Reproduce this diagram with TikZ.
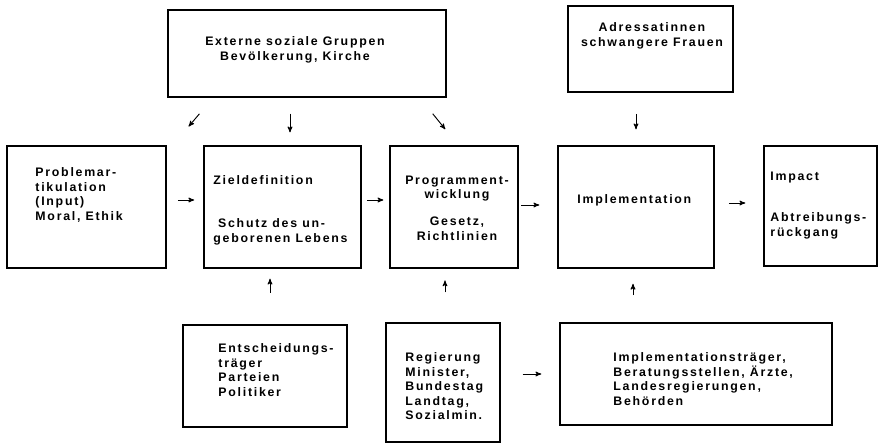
\documentclass[tikz,border=0pt]{standalone}
\usepackage{fontspec}
\setmainfont{Liberation Sans}[LetterSpace=14]
\usepackage{tikz}
\usetikzlibrary{arrows,calc}
\tikzset{sz/.style 2 args={minimum width=#1*0.85pt,minimum height=#2*0.85pt}}

\begin{document}
\begin{tikzpicture}[->,>=stealth',shorten >=1pt,x=0.85pt,y=-0.85pt,thick]
  \tikzstyle{box}=[rectangle,draw=black,line width=1.2pt,inner sep=0pt,-]
  \tikzstyle{txt}=[inner sep=0pt,font=\fontsize{10.5}{12.3}\selectfont\bfseries]

  \useasboundingbox (0,0) rectangle (879,444);

  % boxes
  \node[box,sz={278}{87}]  (ext)   at (307,53.5)  {};
  \node[box,sz={165}{86}]  (adr)   at (650.5,49)  {};
  \node[box,sz={159}{122}] (prob)  at (86.5,207)  {};
  \node[box,sz={157}{122}] (zd)    at (282.5,207) {};
  \node[box,sz={128}{122}] (prog)  at (454,207)   {};
  \node[box,sz={156}{122}] (impl)  at (636,207)   {};
  \node[box,sz={113}{120}] (imp)   at (820.5,206) {};
  \node[box,sz={164}{102}] (ent)   at (265,376)   {};
  \node[box,sz={114}{119}] (reg)   at (443,382.5) {};
  \node[box,sz={272}{102}] (implt) at (696,374)   {};

  % texts
  \node[txt,anchor=north,align=center] (ext-t) at (295,36.5)
    {Externe soziale Gruppen\\Bevölkerung, Kirche};
  \node[txt,anchor=north,align=center] (adr-t) at (652,22.5)
    {Adressatinnen\\schwangere Frauen};
  \node[txt,anchor=north west,align=left] (prob-t) at (35,167.5)
    {Problemar-\\tikulation\\(Input)\\Moral, Ethik};
  \node[txt,anchor=north west,align=left] (zd-t) at (213,175.5)
    {Zieldefinition\\[24pt]\hspace*{4pt}Schutz des un-\\geborenen Lebens};
  \node[txt,anchor=north,align=center] (prog-t) at (457,175.5)
    {Programment-\\wicklung\\[10.6pt]Gesetz,\\Richtlinien};
  \node[txt,anchor=north west,align=left] (impl-t) at (577,194.5)
    {Implementation};
  \node[txt,anchor=north west,align=left] (imp-t) at (770,171.5)
    {Impact\\[23pt]Abtreibungs-\\rückgang};
  \node[txt,anchor=north west,align=left] (ent-t) at (218,343.5)
    {Entscheidungs-\\träger\\Parteien\\Politiker};
  \node[txt,anchor=north west,align=left] (reg-t) at (405,352.5)
    {Regierung\\Minister,\\Bundestag\\Landtag,\\Sozialmin.};
  \node[txt,anchor=north west,align=left] (implt-t) at (613,352.5)
    {Implementationsträger,\\Beratungsstellen, Ärzte,\\Landesregierungen,\\Behörden};

  % arrows from above
  \draw[shorten <=18pt,shorten >=21pt] ([xshift=39pt]ext.south west) -- ([xshift=5pt]prob.north east);
  \draw[shorten <=13.6pt,shorten >=11pt] ($(zd.north |- ext.south)+(7.5,0)$) -- ($(zd.north)+(7.5,0)$);
  \draw[shorten <=17.6pt,shorten >=17.6pt] ([xshift=-23pt]ext.south east) -- ([xshift=58.7pt]prog.north west);
  \draw[shorten <=17.9pt,shorten >=13.6pt] (impl.north |- adr.south) -- (impl.north);

  % main chain
  \draw[shorten <=9.4pt,shorten >=7.7pt] ($(prob.east)+(0,-7)$) -- ($(zd.west)+(0,-7)$);
  \draw[shorten <=4.3pt,shorten >=5pt] ($(zd.east)+(0,-7)$) -- ($(prog.west)+(0,-7)$);
  \draw[shorten <=2pt,shorten >=15.3pt] ($(prog.east)+(0,-2)$) -- ($(impl.west)+(0,-2)$);
  \draw[shorten <=12pt,shorten >=15.3pt] ($(impl.east)+(0,-4)$) -- ($(imp.west |- impl.east)+(0,-4)$);

  % arrows from below
  \draw[shorten <=27pt,shorten >=8.5pt] ($(ent.north)+(5,0)$) -- ($(ent.north |- zd.south)+(5,0)$);
  \draw[shorten <=25.5pt,shorten >=10pt] ($(reg.north)+(2,0)$) -- ($(reg.north |- prog.south)+(2,0)$);
  \draw[shorten <=23pt,shorten >=12.8pt] ($(impl.south |- implt.north)+(-3,0)$) -- ($(impl.south)+(-3,0)$);
  \draw[shorten <=18.7pt,shorten >=15.3pt] (reg.east |- implt.west) -- (implt.west);

\end{tikzpicture}
\end{document}
